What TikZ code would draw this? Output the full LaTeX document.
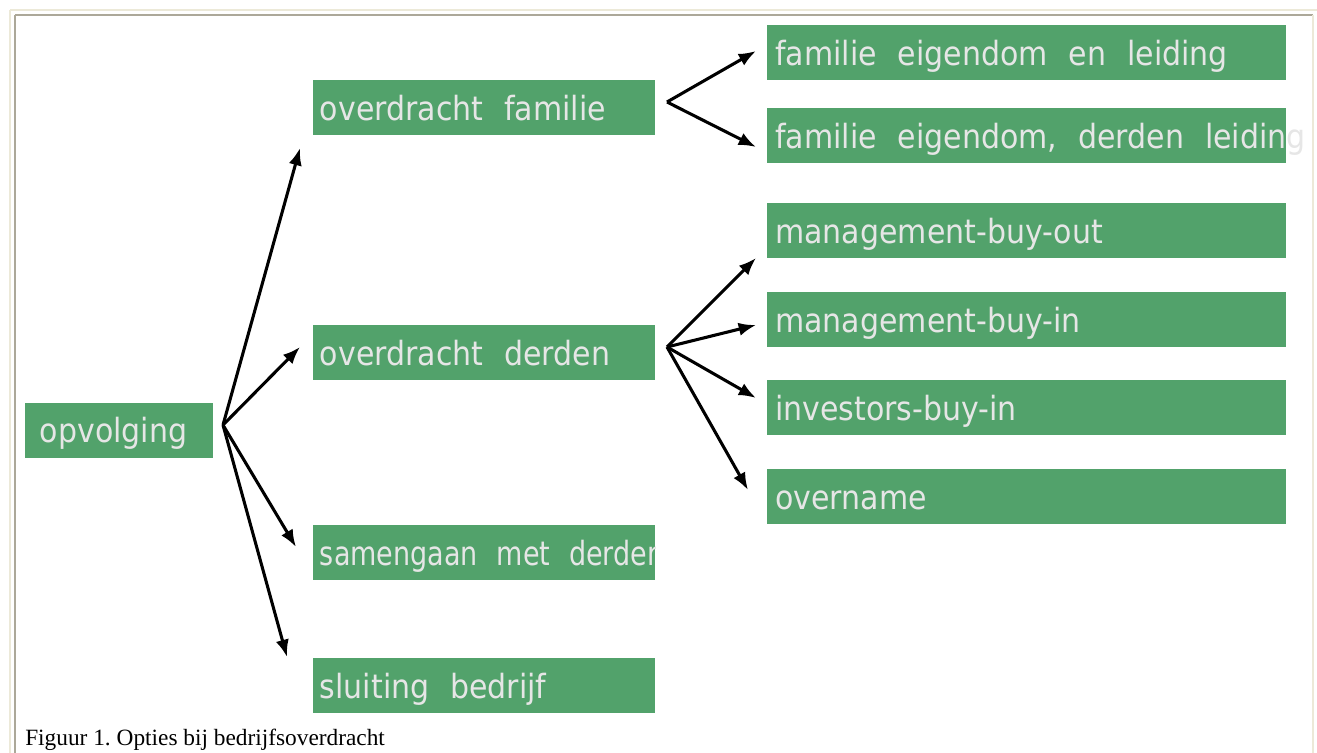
\documentclass[tikz,border=0pt]{standalone}
\usepackage{fontspec}
\usepackage{graphicx}
\usetikzlibrary{arrows.meta}
\newfontfamily\boxfont[FakeStretch=0.9,WordSpace=2.2]{DejaVu Sans}
\newfontfamily\capfont{Liberation Serif}
\definecolor{boxgreen}{RGB}{82,162,107}
\definecolor{boxtext}{RGB}{230,230,230}
\definecolor{frameA}{RGB}{236,233,216}
\definecolor{frameB}{RGB}{172,168,153}
\tikzset{
  box/.style={fill=boxgreen, draw=none, inner sep=0pt, anchor=north west, minimum height=41.25pt},
  boxO/.style={box, minimum width=141pt},
  boxL/.style={box, minimum width=256.5pt},
  boxR/.style={box, minimum width=389.25pt},
  lbl/.style={text=boxtext, font=\boxfont\fontsize{25pt}{30pt}\selectfont, inner sep=0pt, anchor=base west},
  conn/.style={line width=2.3pt, -{Latex[length=13pt,width=10pt]}},
}
\begin{document}
\frenchspacing
\begin{tikzpicture}[x=0.75pt,y=-0.75pt]
\useasboundingbox (0,0) rectangle (1317,753);
\fill[white] (0,0) rectangle (1317,753);
% frame
\draw[frameA, line width=1.5pt] (10,10) -- (1317,10);
\draw[frameA, line width=1.5pt] (10,10) -- (10,753);
\draw[frameB, line width=0.9pt] (15,15) -- (1313,15);
\draw[frameB, line width=0.9pt] (15,15) -- (15,753);
\draw[frameA, line width=1.2pt] (1313,15) -- (1313,753);

% boxes
\node[boxO] (op) at (25,403) {};
\node[boxL] (of) at (313,80) {};
\node[boxL] (od) at (313,325) {};
\node[boxL] (sm) at (313,525) {};
\node[boxL] (sl) at (313,658) {};
\node[boxR] (r1) at (767,25) {};
\node[boxR] (r2) at (767,108) {};
\node[boxR] (r3) at (767,203) {};
\node[boxR] (r4) at (767,292) {};
\node[boxR] (r5) at (767,380) {};
\node[boxR] (r6) at (767,469) {};

% labels
\node[lbl] (opt) at ([xshift=11pt,yshift=-29.5pt]op.north west) {opvolging};
\node[lbl] (oft) at ([xshift=5pt,yshift=-30pt]of.north west) {overdracht familie};
\node[lbl] (odt) at ([xshift=5pt,yshift=-30pt]od.north west) {overdracht derden};
\begin{scope}
\clip (sm.north west) rectangle (sm.south east);
\node[lbl] (smt) at ([xshift=5pt,yshift=-30pt]sm.north west) {\scalebox{0.9}[1]{samengaan met derden}};
\end{scope}
\node[lbl] (slt) at ([xshift=5pt,yshift=-30pt]sl.north west) {sluiting bedrijf};
\node[lbl] (r1t) at ([xshift=6pt,yshift=-30pt]r1.north west) {familie eigendom en leiding};
\node[lbl] (r2t) at ([xshift=6pt,yshift=-30pt]r2.north west) {familie eigendom, derden leiding};
\node[lbl] (r3t) at ([xshift=6pt,yshift=-30pt]r3.north west) {management-buy-out};
\node[lbl] (r4t) at ([xshift=6pt,yshift=-30pt]r4.north west) {management-buy-in};
\node[lbl] (r5t) at ([xshift=6pt,yshift=-30pt]r5.north west) {investors-buy-in};
\node[lbl] (r6t) at ([xshift=6pt,yshift=-30pt]r6.north west) {overname};

% hubs and arrow ends
\coordinate (h0) at (223,425);
\coordinate (h1) at (667,102);
\coordinate (h2) at (667,347);
\coordinate (t1) at (300,148);
\coordinate (t2) at (300,347);
\coordinate (t3) at (296,547);
\coordinate (t4) at (287,657);
\coordinate (f1) at (756,51);
\coordinate (f2) at (756,147);
\coordinate (d1) at (756,258);
\coordinate (d2) at (756,325);
\coordinate (d3) at (756,398);
\coordinate (d4) at (748,490);

\draw[conn] (h0) -- (t1);
\draw[conn] (h0) -- (t2);
\draw[conn] (h0) -- (t3);
\draw[conn] (h0) -- (t4);
\draw[conn] (h1) -- (f1);
\draw[conn] (h1) -- (f2);
\draw[conn] (h2) -- (d1);
\draw[conn] (h2) -- (d2);
\draw[conn] (h2) -- (d3);
\draw[conn] (h2) -- (d4);

% caption
\node[font=\capfont\fontsize{17.5pt}{21pt}\selectfont, anchor=base west, inner sep=0pt] (cap) at (25,745) {Figuur 1. Opties bij bedrijfsoverdracht};
\end{tikzpicture}
\end{document}
